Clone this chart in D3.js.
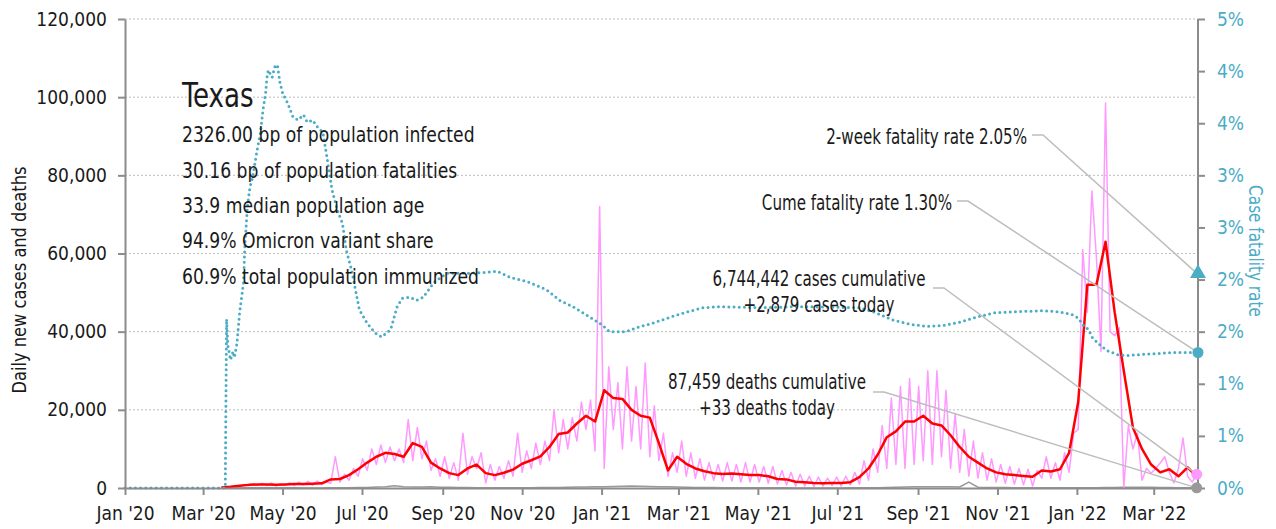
<!DOCTYPE html>
<html>

<head>
    <meta charset="utf-8">
    <title>Texas: daily new cases, deaths and case fatality rate</title>
    <script src="https://d3js.org/d3.v7.min.js"></script>
    <style>
        body {
            margin: 0;
            background: #fff;
        }

        svg text {
            font-family: "Liberation Sans Narrow", "DejaVu Sans Condensed", "Roboto Condensed", sans-serif;
            fill: #1a1a1a;
        }

        .axis path,
        .axis line {
            stroke: #8c8c8c;
            stroke-width: 2;
        }

        .axis text {
            font-size: 19px;
        }

        .axis-right text {
            fill: #4bacc6;
        }

        .grid line {
            stroke: #bdbdbd;
            stroke-width: 1;
            stroke-dasharray: 2, 2;
        }
    </style>
</head>

<body>
    <div id="chart"></div>

    <script>
        // ---- data ----
        var leftTicks = [0, 20000, 40000, 60000, 80000, 100000, 120000];
        var rightTicks = [0, 0.5, 1, 1.5, 2, 2.5, 3, 3.5, 4, 4.5];
        var monthTicks = ["2020-01-01", "2020-03-01", "2020-05-01", "2020-07-01", "2020-09-01", "2020-11-01",
            "2021-01-01", "2021-03-01", "2021-05-01", "2021-07-01", "2021-09-01", "2021-11-01",
            "2022-01-01", "2022-03-01"];

        // weekly points starting 2020-03-15
        var seriesStart = "2020-03-15";
        var avgCases = [100, 300, 600, 800, 900, 900, 850, 900, 1000, 1050,
            1100, 1200, 2200, 2300, 3300, 4800, 6500, 8000, 9000, 8700,
            8000, 11500, 10500, 6500, 5000, 3800, 3300, 5000, 6000, 3800,
            3300, 3900, 4700, 6200, 7100, 8100, 10500, 13800, 14200, 16500,
            18500, 17000, 25000, 23000, 22800, 20000, 18500, 18000, 11500, 4500,
            8000, 6200, 5000, 4300, 3800, 3600, 3700, 3500, 3300, 3300,
            3000, 2300, 2200, 1600, 1500, 1300, 1200, 1300, 1300, 1500,
            2800, 5000, 8500, 13000, 14500, 17000, 17000, 18500, 16500, 16000,
            13500, 10500, 8000, 6500, 5000, 4000, 3500, 3300, 3100, 2900,
            4500, 4200, 4800, 9000, 22000, 52000, 52000, 63000, 45000, 30000,
            15500, 10000, 6000, 4000, 4800, 3000, 5300, 2900];

        var dailyDeaths = [5, 20, 40, 50, 50, 50, 45, 40, 35, 30,
            30, 30, 35, 40, 60, 100, 150, 250, 350, 600,
            300, 250, 250, 300, 200, 180, 120, 100, 90, 80,
            80, 70, 70, 70, 80, 100, 120, 150, 200, 250,
            280, 300, 350, 400, 450, 500, 450, 400, 350, 300,
            250, 200, 150, 120, 100, 80, 70, 60, 50, 50,
            45, 40, 35, 30, 25, 25, 25, 25, 30, 35,
            40, 50, 80, 120, 180, 250, 300, 330, 350, 340,
            300, 250, 1500, 200, 150, 120, 100, 80, 70, 60,
            60, 55, 50, 50, 50, 60, 80, 120, 160, 200,
            220, 210, 180, 150, 120, 90, 70, 33];

        // half-week points starting 2020-03-15 (low / high of each week)
        var dailyCases = [0, 200, 200, 500, 400, 900, 600, 1100, 700, 1200,
            600, 1300, 500, 1100, 700, 1300, 600, 1500, 800, 1700,
            700, 1800, 900, 1500, 1200, 8000, 1500, 3500, 2000, 5000,
            3000, 7500, 4500, 10000, 6000, 11000, 6500, 10500, 7000, 10000,
            6500, 17500, 7000, 15500, 7500, 12000, 4500, 7500, 3000, 8000,
            2500, 6500, 2000, 14000, 3500, 8000, 5000, 9000, 1300, 6000,
            2000, 5500, 2500, 7000, 3000, 14000, 4000, 9500, 5000, 11500,
            6000, 12000, 7000, 20000, 9000, 17500, 10000, 18000, 12000, 22000,
            15000, 22500, 9500, 72000, 5000, 31000, 15000, 27000, 10000, 31000,
            12000, 26000, 10000, 32000, 8000, 21000, 7000, 14000, 3000, 9000,
            4000, 12000, 3000, 9000, 2500, 7500, 2000, 6500, 2000, 6000,
            1800, 6500, 1800, 6000, 1500, 6500, 1500, 6000, 1500, 5500,
            1200, 5500, 1000, 4500, 800, 4000, 500, 3500, 500, 3000,
            400, 2800, 500, 2500, 600, 2800, 500, 3000, 800, 4000,
            1000, 7000, 2000, 10000, 4000, 16000, 5000, 23000, 6000, 26000,
            5000, 28000, 6000, 26000, 7000, 30000, 6000, 30000, 8000, 25000,
            5000, 19000, 4000, 15000, 3000, 12000, 2500, 9000, 2000, 7500,
            1500, 6000, 1200, 5500, 1000, 5000, 800, 4800, 500, 4500,
            2500, 8000, 2500, 6500, 2000, 9000, 4000, 14000, 15000, 61000,
            45000, 76000, 59000, 35000, 98500, 40000, 39000, 41000, 0, 16000,
            10000, 14000, 2000, 5000, 3800, 5000, 6400, 8000, 4000, 1300,
            5000, 12800, 3000, 1500, 3500];

        // case fatality rate (%), day offsets from 2020-01-01
        var cfrDay = [0, 77, 78, 79, 81, 83, 84, 86, 88, 91, 92, 94, 96, 98, 101, 104, 106, 108, 109, 110,
            113, 115, 117, 119, 121, 125, 129, 133, 137, 140, 144, 148, 152, 155, 159, 163, 167, 170, 174, 177,
            180, 186, 192, 197, 204, 209, 213, 219, 224, 229, 237, 247, 263, 278, 286, 296, 309, 324, 334, 344,
            357, 367, 372, 385, 393, 405, 419, 432, 444, 457, 488, 518, 564, 577, 590, 603, 616, 628, 641, 654,
            667, 680, 705, 718, 728, 732, 736, 740, 743, 749, 754, 762, 769, 779, 793, 805, 822];
        var cfrPct = [0, 0, 1.62, 1.37, 1.23, 1.31, 1.25, 1.39, 1.68, 1.97, 2.31, 2.70, 2.89, 2.98, 3.21, 3.41, 3.63, 3.79, 3.94, 4.01,
            3.94, 4.04, 4.06, 3.89, 3.79, 3.69, 3.56, 3.53, 3.58, 3.51, 3.53, 3.46, 3.41, 3.18, 2.86, 2.67, 2.54, 2.28, 2.09, 1.90,
            1.71, 1.58, 1.49, 1.45, 1.52, 1.74, 1.82, 1.83, 1.80, 1.83, 1.97, 2.06, 2.06, 2.07, 2.08, 2.02, 1.98, 1.90, 1.80, 1.74,
            1.64, 1.56, 1.50, 1.50, 1.54, 1.58, 1.64, 1.69, 1.73, 1.74, 1.73, 1.74, 1.73, 1.68, 1.61, 1.57, 1.55, 1.56, 1.59, 1.64,
            1.68, 1.69, 1.70, 1.69, 1.66, 1.63, 1.56, 1.52, 1.44, 1.37, 1.32, 1.28, 1.27, 1.28, 1.29, 1.30, 1.30];

        var twoWeekCfr = 2.05;
        var cumeCfr = 1.30;
        var stateName = "Texas";
        var statLines = ["2326.00 bp of population infected", "30.16 bp of population fatalities",
            "33.9 median population age", "94.9% Omicron variant share", "60.9% total population immunized"];
        var casesNote = ["6,744,442 cases cumulative", "+2,879 cases today"];
        var deathsNote = ["87,459 deaths cumulative", "+33 deaths today"];

        // ---- chart ----
        var W = 1276, H = 529;
        var plotL = 125, plotR = 1198, plotT = 19, plotB = 488;
        var teal = "#4bacc6", pink = "#ff99ff", red = "#ff0000", gray = "#999999", leader = "#bdbdbd";

        var parse = d3.timeParse("%Y-%m-%d");
        var t0 = parse("2020-01-01");
        var s0 = parse(seriesStart);

        var svg = d3.select("#chart").append("svg")
            .attr("width", W)
            .attr("height", H);

        var x = d3.scaleTime()
            .domain([t0, parse("2022-04-04")])
            .range([plotL, plotR]);
        var y = d3.scaleLinear().domain([0, 120000]).range([plotB, plotT]);
        var yR = d3.scaleLinear().domain([0, 4.5]).range([plotB, plotT]);

        var avgData = avgCases.map((v, i) => ({ date: d3.timeDay.offset(s0, 7 * i), v: v }));
        var deathData = dailyDeaths.map((v, i) => ({ date: d3.timeDay.offset(s0, 7 * i), v: v }));
        var dailyData = dailyCases.map((v, i) => ({ date: d3.timeHour.offset(s0, 84 * i), v: v }));
        var cfrData = cfrDay.map((d, i) => ({ date: d3.timeDay.offset(t0, d), v: cfrPct[i] }));

        // condensed text: place a label in a group squeezed horizontally
        function label(px, py, rot, sx, size, anchor, str) {
            var g = svg.append("g")
                .attr("transform", "translate(" + px + "," + py + ") rotate(" + rot + ") scale(" + sx + ",1)");
            return g.append("text")
                .attr("dy", "0.35em")
                .attr("text-anchor", anchor)
                .style("font-size", size + "px")
                .text(str);
        }

        // dotted gridlines from the left axis
        svg.append("g").attr("class", "grid")
            .selectAll("line")
            .data(leftTicks.filter(d => d > 0))
            .enter().append("line")
            .attr("x1", plotL).attr("x2", plotR)
            .attr("y1", d => y(d)).attr("y2", d => y(d));

        var line = d3.line().x(d => x(d.date)).y(d => y(d.v));
        var lineR = d3.line().x(d => x(d.date)).y(d => yR(d.v));

        svg.append("path").datum(deathData)
            .attr("fill", "none").attr("stroke", gray).attr("stroke-width", 1.5)
            .attr("d", line);

        svg.append("path").datum(dailyData)
            .attr("fill", "none").attr("stroke", pink).attr("stroke-width", 1.5)
            .attr("stroke-linejoin", "round")
            .attr("d", line);

        svg.append("path").datum(avgData)
            .attr("fill", "none").attr("stroke", red).attr("stroke-width", 2.5)
            .attr("stroke-linejoin", "round")
            .attr("d", line);

        svg.append("path").datum(cfrData)
            .attr("fill", "none").attr("stroke", teal).attr("stroke-width", 3)
            .attr("stroke-linecap", "round")
            .attr("stroke-dasharray", "0,5.2")
            .attr("d", lineR);

        // axes
        svg.append("g").attr("class", "axis")
            .attr("transform", "translate(" + plotL + ",0)")
            .call(d3.axisLeft(y).tickValues(leftTicks).tickFormat(d3.format(",")).tickSize(7).tickPadding(11).tickSizeOuter(0));

        svg.append("g").attr("class", "axis axis-right")
            .attr("transform", "translate(" + plotR + ",0)")
            .call(d3.axisRight(yR).tickValues(rightTicks).tickFormat(d => Math.round(d) + "%").tickSize(7).tickPadding(12).tickSizeOuter(0))
            .select(".domain").attr("d", "M0," + plotB + "V" + plotT);

        var gB = svg.append("g").attr("class", "axis")
            .attr("transform", "translate(0," + plotB + ")")
            .call(d3.axisBottom(x).tickValues(monthTicks.map(parse)).tickFormat(d3.timeFormat("%b '%y")).tickSize(7).tickPadding(12).tickSizeOuter(0));
        gB.select(".domain").attr("stroke-width", 2.5);

        // axis titles
        label(19, 280, -90, 0.95, 19, "middle", "Daily new cases and deaths");
        label(1256, 251, 90, 0.85, 20, "middle", "Case fatality rate").style("fill", teal);

        // end markers
        var xe = x(avgData[avgData.length - 1].date);
        var mTri = [plotR, yR(twoWeekCfr)];
        var mCume = [plotR, yR(cumeCfr)];
        var mCases = [xe, y(dailyCases[dailyCases.length - 1])];
        var mDeaths = [xe, y(dailyDeaths[dailyDeaths.length - 1])];

        // annotations with leader lines
        var notes = [
            { lines: ["2-week fatality rate " + twoWeekCfr.toFixed(2) + "%"], tx: 1027, ty: 137, anchor: "end", lx: 1032, ly: 135, to: mTri },
            { lines: ["Cume fatality rate " + cumeCfr.toFixed(2) + "%"], tx: 952, ty: 203, anchor: "end", lx: 957, ly: 201, to: mCume },
            { lines: casesNote, tx: 819, ty: 279, anchor: "middle", lx: 933, ly: 288, to: mCases },
            { lines: deathsNote, tx: 767, ty: 382, anchor: "middle", lx: 873, ly: 392, to: mDeaths }
        ];

        notes.forEach(function (n) {
            svg.append("path")
                .attr("fill", "none").attr("stroke", leader).attr("stroke-width", 1.5)
                .attr("d", "M" + n.lx + "," + n.ly + "H" + (n.lx + 11) + "L" + n.to[0] + "," + n.to[1]);
            n.lines.forEach(function (s, k) {
                label(n.tx, n.ty + k * 26, 0, 0.8, 21, n.anchor, s);
            });
        });

        svg.append("path")
            .attr("transform", "translate(" + mTri[0] + "," + (mTri[1] - 1) + ")")
            .attr("d", d3.symbol().type(d3.symbolTriangle).size(110))
            .attr("fill", teal);
        svg.append("circle").attr("cx", mCume[0]).attr("cy", mCume[1]).attr("r", 5.5).attr("fill", teal);
        svg.append("circle").attr("cx", mCases[0]).attr("cy", mCases[1]).attr("r", 5.5).attr("fill", pink);
        svg.append("circle").attr("cx", mDeaths[0]).attr("cy", mDeaths[1]).attr("r", 5.5).attr("fill", gray);

        // state stats block
        label(182, 95, 0, 0.88, 33, "start", stateName);
        statLines.forEach(function (s, i) {
            label(182, 135 + i * 35.3, 0, 0.91, 21, "start", s);
        });
    </script>
</body>

</html>
